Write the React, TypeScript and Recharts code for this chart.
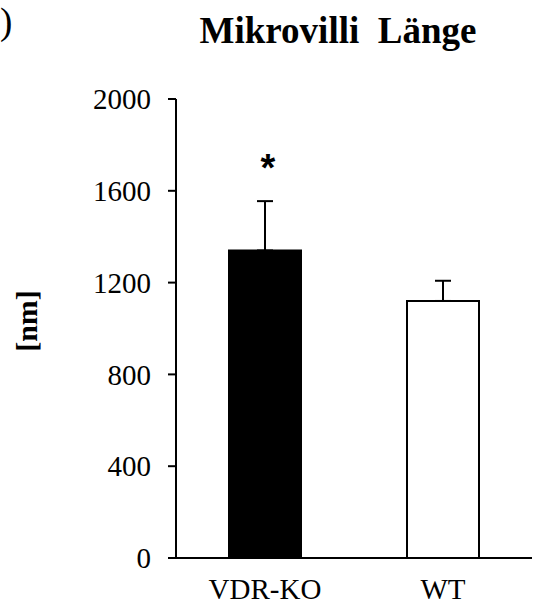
import React from 'react';
import { BarChart, Bar, XAxis, YAxis, ErrorBar, LabelList, Cell } from 'recharts';

// Group names, mean microvilli length and SD
const groups = ['VDR-KO', 'WT'];
const lengths = [1340, 1120];
const sd = [215, 88];
const marks = ['*', ''];
const fills = ['#000000', '#ffffff'];
const yTicks = [0, 400, 800, 1200, 1600, 2000];

const data = groups.map((name, i) => ({
  name,
  length: lengths[i],
  err: [0, sd[i]],
  mark: marks[i],
}));

const serif = '"Liberation Serif", "Times New Roman", serif';

// star drawn above the top whisker
const Star = (props: any) => {
  const { x, y, width, value, index } = props;
  if (!value) return null;
  const top = y - (sd[index] / 2000) * 459;
  return (
    <text x={x + width / 2 + 3} y={top - 20} textAnchor="middle" fontFamily='"Liberation Sans", Arial, sans-serif' fontWeight="bold" fontSize={38} fill="#000">
      {value}
    </text>
  );
};

export default function App() {
  return (
    <div style={{ position: 'absolute', left: 0, top: 0, width: 533, height: 606, background: '#fff' }}>
      <BarChart
        width={533}
        height={606}
        data={data}
        margin={{ top: 99, right: 1, left: 116, bottom: 18 }}
        barCategoryGap={53}
      >
        <XAxis
          dataKey="name"
          axisLine={{ stroke: '#000', strokeWidth: 2 }}
          tickLine={false}
          tickSize={0}
          tickMargin={20}
          height={30}
          tick={{ fill: '#000', fontSize: 29, fontFamily: serif }}
        />
        <YAxis
          domain={[0, 2000]}
          ticks={yTicks}
          width={60}
          axisLine={{ stroke: '#000', strokeWidth: 2 }}
          tickLine={{ stroke: '#000', strokeWidth: 2 }}
          tickSize={8}
          tickMargin={17}
          interval={0}
          tick={{ fill: '#000', fontSize: 29, fontFamily: serif }}
        />
        <Bar dataKey="length" stroke="#000" strokeWidth={2} isAnimationActive={false}>
          {data.map((d, i) => (
            <Cell key={d.name} fill={fills[i]} />
          ))}
          <ErrorBar dataKey="err" width={8} stroke="#000" strokeWidth={2} direction="y" />
          <LabelList dataKey="mark" content={Star} />
        </Bar>
      </BarChart>
      <svg width={533} height={606} style={{ position: 'absolute', left: 0, top: 0, pointerEvents: 'none' }}>
        <text x={0} y={34} fontFamily={serif} fontSize={37} fill="#000">)</text>
        <text x={338} y={43} textAnchor="middle" fontFamily={serif} fontWeight="bold" fontSize={37} fill="#000" style={{ whiteSpace: 'pre' }}>
          {'Mikrovilli  Länge'}
        </text>
        <text x={37} y={321} textAnchor="middle" fontFamily={serif} fontWeight="bold" fontSize={30} fill="#000" transform="rotate(-90 37 321)">
          [nm]
        </text>
      </svg>
    </div>
  );
}
